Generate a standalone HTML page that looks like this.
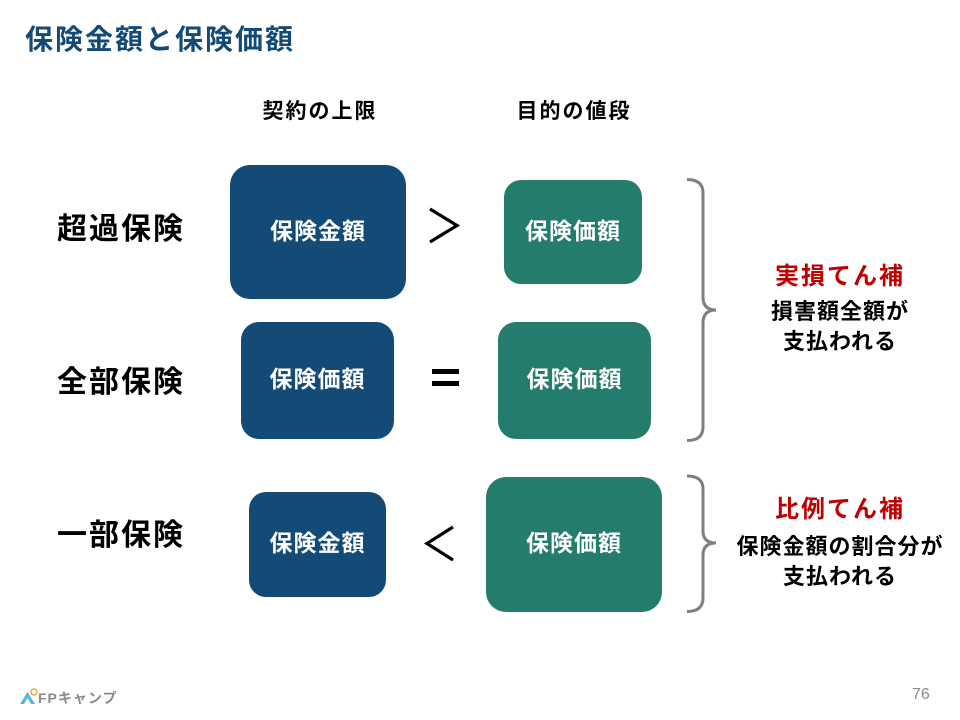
<!DOCTYPE html>
<html><head><meta charset="utf-8">
<style>
html,body{margin:0;padding:0;background:#fff;}
body{width:960px;height:720px;position:relative;overflow:hidden;font-family:"Liberation Sans","Noto Sans CJK JP",sans-serif;}
.a{position:absolute;white-space:nowrap;}
.box{position:absolute;display:flex;align-items:center;justify-content:center;color:#fff;font-weight:bold;font-size:23px;letter-spacing:1px;box-sizing:border-box;padding-bottom:7px;}
.b{background:#134a76;}
.g{background:#247d6c;}
.lab{position:absolute;left:57px;font-weight:bold;font-size:30px;letter-spacing:2px;color:#000;height:40px;line-height:40px;white-space:nowrap;}
.hd{position:absolute;font-weight:bold;font-size:21px;letter-spacing:2px;color:#000;height:30px;line-height:30px;text-align:center;}
.rt{position:absolute;left:720px;width:240px;text-align:center;font-weight:bold;}
.red{color:#c00000;font-size:24px;letter-spacing:2px;height:30px;line-height:30px;}
.blk{color:#000;font-size:22px;letter-spacing:1px;line-height:30px;}
</style></head><body>

<div class="a" style="left:25px;top:22px;height:36px;line-height:36px;font-size:28px;font-weight:bold;color:#134a76;letter-spacing:2px;">保険金額と保険価額</div>

<div class="hd" style="left:240px;width:160px;top:97px;">契約の上限</div>
<div class="hd" style="left:494px;width:160px;top:97px;">目的の値段</div>

<div class="lab" style="top:210px;">超過保険</div>
<div class="lab" style="top:363px;">全部保険</div>
<div class="lab" style="top:516px;">一部保険</div>

<div class="box b" style="left:230px;top:165px;width:176px;height:134px;border-radius:20px;">保険金額</div>
<div class="box g" style="left:504px;top:180px;width:138px;height:104px;border-radius:17px;">保険価額</div>

<div class="box b" style="left:241px;top:322px;width:153px;height:117px;border-radius:18px;">保険価額</div>
<div class="box g" style="left:498px;top:322px;width:153px;height:117px;border-radius:18px;">保険価額</div>

<div class="box b" style="left:249px;top:492px;width:137px;height:105px;border-radius:17px;">保険金額</div>
<div class="box g" style="left:486px;top:477px;width:176px;height:135px;border-radius:20px;">保険価額</div>

<svg class="a" style="left:0;top:0;" width="960" height="720" viewBox="0 0 960 720">
  <polyline points="430,209 457,225.5 430,242" fill="none" stroke="#000" stroke-width="3.2"/>
  <rect x="432" y="369" width="27" height="5" fill="#000"/>
  <rect x="432" y="381" width="27" height="5" fill="#000"/>
  <polyline points="453,527 427,543.5 453,560" fill="none" stroke="#000" stroke-width="3.2"/>
  <path d="M687,179.5 Q703,179.5 703,193 L703,297 Q703,310 716,310 Q703,310 703,323 L703,427 Q703,440.5 687,440.5" fill="none" stroke="#7f7f7f" stroke-width="3"/>
  <path d="M687,476 Q703,476 703,489 L703,531 Q703,543 716,543 Q703,543 703,555 L703,598 Q703,611.5 687,611.5" fill="none" stroke="#7f7f7f" stroke-width="3"/>
  <polygon points="20,704 27.5,692 35,704" fill="#5ab4e0"/>
  <polygon points="24,704 27.5,698 31,704" fill="#fff"/>
  <circle cx="34" cy="692" r="3" fill="none" stroke="#f0a830" stroke-width="1.5"/>
</svg>

<div class="rt red" style="top:262px;">実損てん補</div>
<div class="rt blk" style="top:297px;">損害額全額が<br>支払われる</div>

<div class="rt red" style="top:495px;">比例てん補</div>
<div class="rt blk" style="top:532px;">保険金額の割合分が<br>支払われる</div>

<div class="a" style="left:38px;top:690px;font-size:14px;font-weight:bold;color:#8a8a8a;line-height:16px;letter-spacing:1px;">FPキャンプ</div>
<div class="a" style="left:912px;top:686px;font-size:16px;color:#8a8a8a;line-height:18px;">76</div>

</body></html>
